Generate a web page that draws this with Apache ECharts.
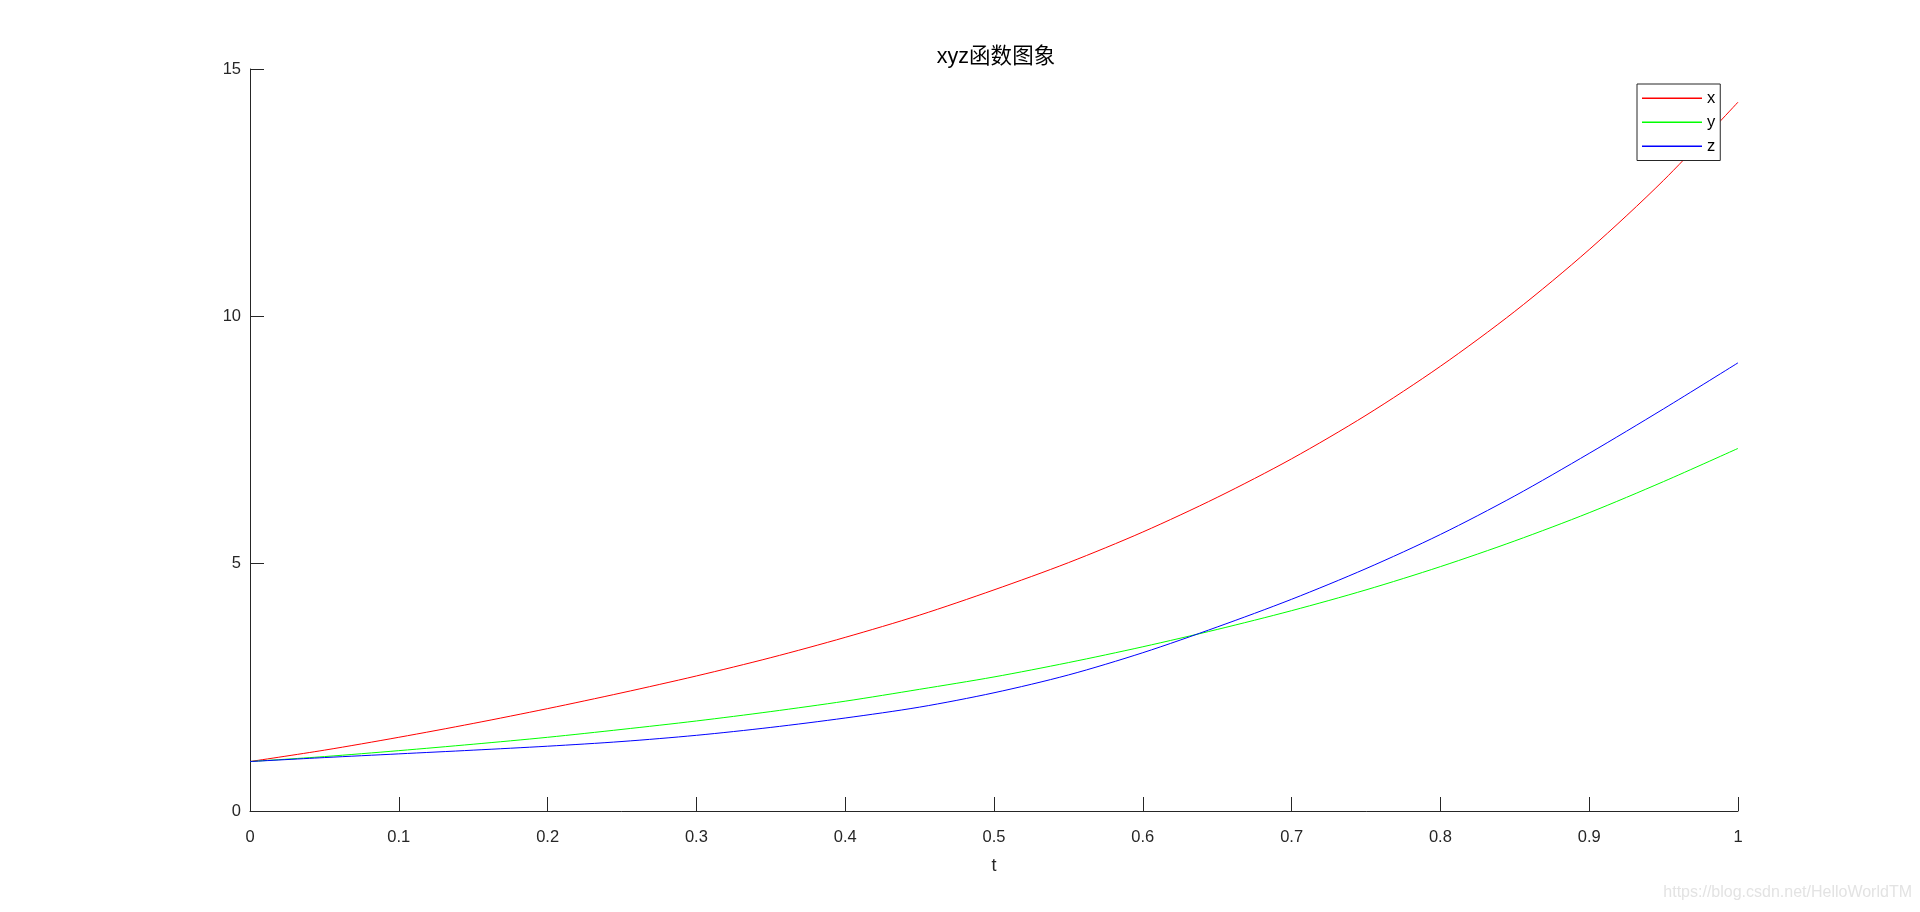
<!DOCTYPE html>
<html>
<head>
<meta charset="utf-8">
<script src="https://cdn.jsdelivr.net/npm/echarts@6/dist/echarts.min.js"></script>
<style>
html,body{margin:0;padding:0;background:#fff;}
#chart{width:1920px;height:912px;}
</style>
</head>
<body>
<div id="chart"></div>
<script>
// ---- data ----
var tValues = [0, 0.05, 0.1, 0.15, 0.2, 0.25, 0.3, 0.35, 0.4, 0.45, 0.5, 0.55, 0.6, 0.65, 0.7, 0.75, 0.8, 0.85, 0.9, 0.95, 1.0];
var xValues = [1.00, 1.23, 1.49, 1.77, 2.07, 2.39, 2.73, 3.10, 3.51, 3.96, 4.47, 5.02, 5.64, 6.34, 7.12, 8.00, 8.99, 10.10, 11.35, 12.75, 14.33];
var yValues = [1.00, 1.10, 1.22, 1.35, 1.49, 1.65, 1.82, 2.01, 2.22, 2.46, 2.71, 3.00, 3.32, 3.67, 4.05, 4.47, 4.94, 5.46, 6.03, 6.66, 7.33];
var zValues = [1.00, 1.08, 1.155, 1.23, 1.31, 1.405, 1.53, 1.69, 1.88, 2.10, 2.39, 2.75, 3.20, 3.72, 4.28, 4.90, 5.59, 6.37, 7.23, 8.13, 9.06];
var seriesNames = ['x', 'y', 'z'];
var seriesColors = ['#ff0000', '#00ff00', '#0000ff'];
var titleText = 'xyz函数图象';
var xAxisName = 't';
var watermarkText = 'https://blog.csdn.net/HelloWorldTM';

function pairs(vals) {
  return tValues.map(function (t, i) { return [t, vals[i]]; });
}
var allValues = [xValues, yValues, zValues];

var FONT = '"Liberation Sans", Arial, "Noto Sans CJK SC", sans-serif';
var AX = '#262626';

var chart = echarts.init(document.getElementById('chart'), null, {renderer: 'canvas'});
chart.setOption({
  backgroundColor: '#ffffff',
  animation: false,
  title: {
    text: titleText,
    left: 991,
    top: 41,
    textAlign: 'center',
    textStyle: {fontFamily: FONT, fontSize: 21.5, fontWeight: 'normal', color: '#000'}
  },
  legend: {
    orient: 'vertical',
    left: 1637,
    top: 84,
    padding: [6, 5, 6, 5],
    itemWidth: 60,
    itemHeight: 1.5,
    itemGap: 7.5,
    itemTextGap: 5,
    icon: 'rect',
    backgroundColor: '#ffffff',
    borderColor: AX,
    borderWidth: 1,
    borderRadius: 0,
    textStyle: {fontFamily: FONT, fontSize: 16.5, color: '#000', lineHeight: 16},
    data: seriesNames
  },
  grid: {left: 250, top: 69, width: 1488, height: 742, containLabel: false},
  xAxis: {
    type: 'value',
    min: 0, max: 1, interval: 0.1,
    name: xAxisName,
    nameLocation: 'middle',
    nameGap: 46,
    nameTextStyle: {fontFamily: FONT, fontSize: 18, color: AX},
    axisLine: {show: true, lineStyle: {color: AX, width: 1}},
    axisTick: {show: true, inside: true, length: 14, lineStyle: {color: AX}},
    axisLabel: {fontFamily: FONT, fontSize: 16.5, color: AX, margin: 18,
      formatter: function (v) { return String(Math.round(v * 10) / 10); }},
    splitLine: {show: false}
  },
  yAxis: {
    type: 'value',
    min: 0, max: 15, interval: 5,
    axisLine: {show: true, lineStyle: {color: AX, width: 1}},
    axisTick: {show: true, inside: true, length: 14, lineStyle: {color: AX}},
    axisLabel: {fontFamily: FONT, fontSize: 16.5, color: AX, margin: 9},
    splitLine: {show: false}
  },
  graphic: [{
    type: 'text',
    right: 8,
    top: 885,
    style: {text: watermarkText, fontFamily: FONT, fontSize: 16, fill: '#e3e3e3'}
  }],
  series: seriesNames.map(function (name, i) {
    return {
      name: name,
      type: 'line',
      data: pairs(allValues[i]),
      showSymbol: false,
      symbol: 'none',
      smooth: 0.3,
      lineStyle: {color: seriesColors[i], width: 1},
      itemStyle: {color: seriesColors[i]},
      emphasis: {disabled: true}
    };
  })
});
</script>
</body>
</html>
